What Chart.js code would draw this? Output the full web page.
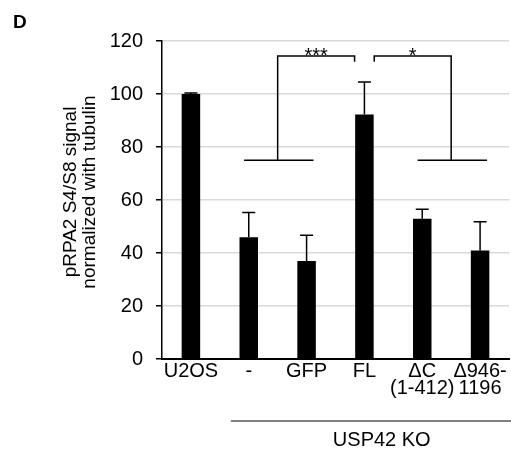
<!DOCTYPE html>
<html lang="en">
<head>
    <meta charset="UTF-8">
    <title>pRPA2 S4/S8 signal</title>
    <script src="https://cdn.jsdelivr.net/npm/chart.js"></script>
    <style>
        body {
            margin: 0;
            background-color: #fff;
        }
        #wrap {
            width: 511px;
            height: 454px;
        }
    </style>
</head>
<body>
    <div id="wrap"><canvas id="grafico"></canvas></div>

    <script>
        // dados
        const categorias = ['U2OS', '-', 'GFP', 'FL', ['\u0394C', '(1-412)'], ['\u0394946-', '1196']];
        const valores = [100, 45.9, 37.0, 92.3, 52.9, 40.9];
        const erros = [0.4, 9.4, 9.7, 12.2, 3.6, 10.9];
        const ticksY = [0, 20, 40, 60, 80, 100, 120];
        const tituloY = ['pRPA2 S4/S8 signal', 'normalized with tubulin'];
        const grupoKO = 'USP42 KO';

        // significancia: grupo (indices) comparado com FL
        const comparacoes = [
            { grupo: [1, 2], alvo: 3, marca: '***' },
            { grupo: [4, 5], alvo: 3, marca: '*' }
        ];
        const nivelBase = 75;
        const nivelTopo = 114.3;
        const nivelPonta = 112.2;

        const fonte = "'Liberation Sans', Arial, sans-serif";

        const desenhos = {
            id: 'desenhos',
            afterDatasetsDraw(chart) {
                const ctx = chart.ctx;
                const x = chart.scales.x;
                const y = chart.scales.y;
                ctx.save();
                ctx.strokeStyle = '#000';
                ctx.fillStyle = '#000';
                ctx.lineWidth = 1.5;

                // barras de erro (só para cima)
                valores.forEach((v, i) => {
                    const px = x.getPixelForValue(i);
                    const top = y.getPixelForValue(v + erros[i]);
                    ctx.beginPath();
                    ctx.moveTo(px, y.getPixelForValue(v));
                    ctx.lineTo(px, top);
                    ctx.moveTo(px - 6.5, top);
                    ctx.lineTo(px + 6.5, top);
                    ctx.stroke();
                });

                // colchetes de significancia
                comparacoes.forEach(c => {
                    const a = c.grupo[0], b = c.grupo[1];
                    const meio = (a + b) / 2;
                    const yb = y.getPixelForValue(nivelBase);
                    const yt = y.getPixelForValue(nivelTopo);
                    const yp = y.getPixelForValue(nivelPonta);
                    ctx.beginPath();
                    ctx.moveTo(x.getPixelForValue(a - 0.08), yb);
                    ctx.lineTo(x.getPixelForValue(b + 0.12), yb);
                    ctx.stroke();
                    const lado = c.alvo > meio ? -0.17 : 0.17;
                    const xa = x.getPixelForValue(c.alvo + lado);
                    const xm = x.getPixelForValue(meio);
                    ctx.beginPath();
                    ctx.moveTo(xm, yb);
                    ctx.lineTo(xm, yt);
                    ctx.lineTo(xa, yt);
                    ctx.lineTo(xa, yp);
                    ctx.stroke();
                    ctx.font = '20px ' + fonte;
                    ctx.textAlign = 'center';
                    ctx.textBaseline = 'alphabetic';
                    ctx.fillText(c.marca, (xm + xa) / 2, yt + 6);
                });

                // linha do grupo KO
                const yLinha = 421;
                ctx.lineWidth = 1;
                ctx.beginPath();
                ctx.moveTo(x.getPixelForValue(0.69), yLinha);
                ctx.lineTo(chart.width, yLinha);
                ctx.stroke();
                ctx.font = '20px ' + fonte;
                ctx.textAlign = 'center';
                ctx.textBaseline = 'middle';
                ctx.fillText(grupoKO, x.getPixelForValue(3.3), 440);

                // titulo do eixo y
                ctx.save();
                ctx.translate(80, 192);
                ctx.rotate(-Math.PI / 2);
                ctx.font = '19px ' + fonte;
                ctx.fillText(tituloY[0], 0, -9.5);
                ctx.fillText(tituloY[1], 0, 9.5);
                ctx.restore();

                // letra do painel
                ctx.font = 'bold 19px ' + fonte;
                ctx.textAlign = 'left';
                ctx.textBaseline = 'middle';
                ctx.fillText('D', 13, 23);
                ctx.restore();
            }
        };

        new Chart(document.getElementById('grafico'), {
            type: 'bar',
            data: {
                labels: categorias,
                datasets: [{
                    data: valores,
                    backgroundColor: '#000',
                    borderWidth: 0,
                    barPercentage: 0.32,
                    categoryPercentage: 1
                }]
            },
            options: {
                responsive: true,
                maintainAspectRatio: false,
                animation: false,
                layout: { padding: { top: 41, right: 2, left: 0, bottom: 0 } },
                plugins: {
                    legend: { display: false },
                    tooltip: { enabled: false }
                },
                scales: {
                    x: {
                        grid: { display: false, drawTicks: false },
                        border: { color: '#000', width: 2 },
                        ticks: {
                            color: '#000',
                            font: { family: fonte, size: 20, lineHeight: 0.85 },
                            padding: 4,
                            autoSkip: false,
                            maxRotation: 0
                        },
                        afterFit: s => { s.height = 95; }
                    },
                    y: {
                        min: 0,
                        max: 120,
                        afterBuildTicks: s => { s.ticks = ticksY.map(v => ({ value: v })); },
                        grid: {
                            color: '#d9d9d9',
                            lineWidth: 1.5,
                            tickColor: '#000',
                            tickLength: 6
                        },
                        border: { color: '#000', width: 1.5 },
                        ticks: {
                            color: '#000',
                            font: { family: fonte, size: 20 },
                            padding: 13
                        },
                        afterFit: s => { s.width = 162; }
                    }
                }
            },
            plugins: [desenhos]
        });
    </script>
</body>
</html>
